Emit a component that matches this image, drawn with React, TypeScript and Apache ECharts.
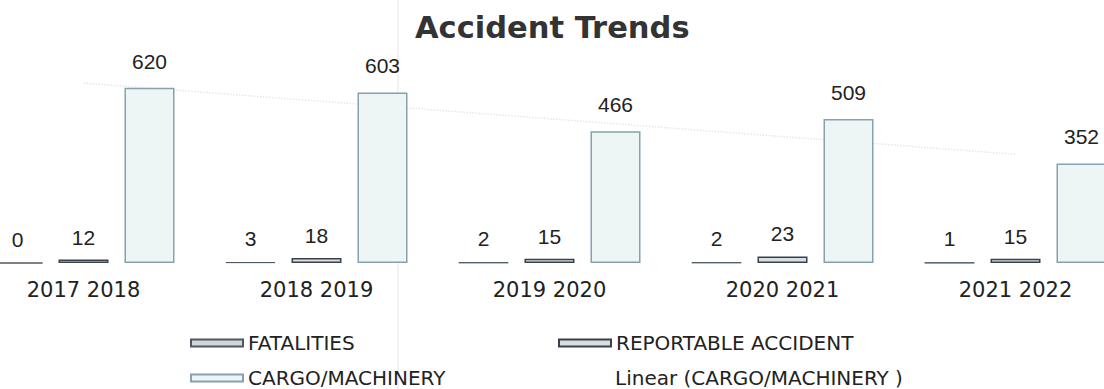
import React, { useEffect, useRef } from "react";
import * as echarts from "echarts";

const categories = ["2017 2018", "2018 2019", "2019 2020", "2020 2021", "2021 2022"];
const fatalities = [0, 3, 2, 2, 1];
const reportable = [12, 18, 15, 23, 15];
const cargo = [620, 603, 466, 509, 352];
// Linear trendline endpoints (first and last category)
const trendStart = 636;
const trendEnd = 384;

const labelFont = "'Liberation Sans', Arial, sans-serif";
const uiFont = "'DejaVu Sans', Verdana, sans-serif";

// The plot extends past the page edges in the reference; the chart canvas is shifted left.
const SHIFT = 33;
const CHART_W = 1165;

export default function App() {
  const ref = useRef<HTMLDivElement>(null);
  useEffect(() => {
    if (!ref.current) return;
    const chart = echarts.init(ref.current, null, { renderer: "svg" });
    const legendText = { fontFamily: uiFont, fontSize: 20, color: "#222" };
    const mkLegend = (name: string, left: number, top: number, extra: any = {}) => ({
      show: true,
      left: left + SHIFT,
      top,
      padding: 0,
      itemWidth: 52,
      itemHeight: 7,
      itemGap: 10,
      textStyle: legendText,
      data: [{ name, icon: "rect", ...extra }],
      selectedMode: false,
    });
    chart.setOption({
      animation: false,
      backgroundColor: "#ffffff",
      title: {
        text: "Accident Trends",
        left: 415 + SHIFT - 5,
        top: 7,
        textStyle: { fontFamily: uiFont, fontWeight: "bold", fontSize: 30.5, color: "#333" },
      },
      legend: [
        mkLegend("FATALITIES", 190, 333),
        mkLegend("REPORTABLE ACCIDENT", 558, 333),
        mkLegend("CARGO/MACHINERY", 190, 368),
        mkLegend("Linear (CARGO/MACHINERY )", 558, 368, {
          itemStyle: { color: "rgba(0,0,0,0)", borderColor: "rgba(0,0,0,0)" },
          lineStyle: { color: "rgba(0,0,0,0)" },
        }),
      ],
      graphic: [
        {
          type: "line",
          shape: { x1: 398 + SHIFT, y1: 0, x2: 398 + SHIFT, y2: 389 },
          style: { stroke: "#e2e2ec", lineWidth: 1 },
          silent: true,
          z: -1,
        },
      ],
      grid: { left: 0, right: 0, top: 65, bottom: 126, containLabel: false },
      xAxis: {
        type: "category",
        data: categories,
        axisLine: { show: false },
        axisTick: { show: false },
        axisLabel: { fontFamily: uiFont, fontSize: 21, color: "#222", margin: 16 },
      },
      yAxis: { type: "value", min: 0, max: 700, show: false, splitLine: { show: false } },
      series: [
        {
          name: "FATALITIES",
          type: "bar",
          data: fatalities,
          barWidth: 50,
          barGap: "32%",
          itemStyle: { color: "#cfd6dc", borderColor: "#4f5860", borderWidth: 1 },
          label: { show: true, position: "top", distance: 13, fontFamily: labelFont, fontSize: 21, color: "#222" },
        },
        {
          name: "REPORTABLE ACCIDENT",
          type: "bar",
          data: reportable,
          barWidth: 50,
          barGap: "32%",
          itemStyle: { color: "#d9dee3", borderColor: "#39424a", borderWidth: 1.5 },
          label: { show: true, position: "top", distance: 12, fontFamily: labelFont, fontSize: 21, color: "#222" },
        },
        {
          name: "CARGO/MACHINERY",
          type: "bar",
          data: cargo,
          barWidth: 50,
          barGap: "32%",
          itemStyle: { color: "#eef5f5", borderColor: "#86a2ae", borderWidth: 1.5 },
          label: { show: true, position: "top", distance: 16, fontFamily: labelFont, fontSize: 21, color: "#222" },
        },
        {
          name: "Linear (CARGO/MACHINERY )",
          type: "line",
          data: [
            [0, trendStart],
            [categories.length - 1, trendEnd],
          ],
          symbol: "none",
          lineStyle: { color: "#e4e7ec", width: 1.5, type: "dotted" },
          itemStyle: { color: "rgba(0,0,0,0)" },
          z: 1,
        },
      ],
    });
    return () => chart.dispose();
  }, []);
  return (
    <div
      style={{
        position: "fixed",
        left: 0,
        top: 0,
        width: 1104,
        height: 389,
        overflow: "hidden",
        background: "#fff",
      }}
    >
      <div
        ref={ref}
        style={{ position: "absolute", left: -SHIFT, top: 0, width: CHART_W, height: 389 }}
      />
    </div>
  );
}
